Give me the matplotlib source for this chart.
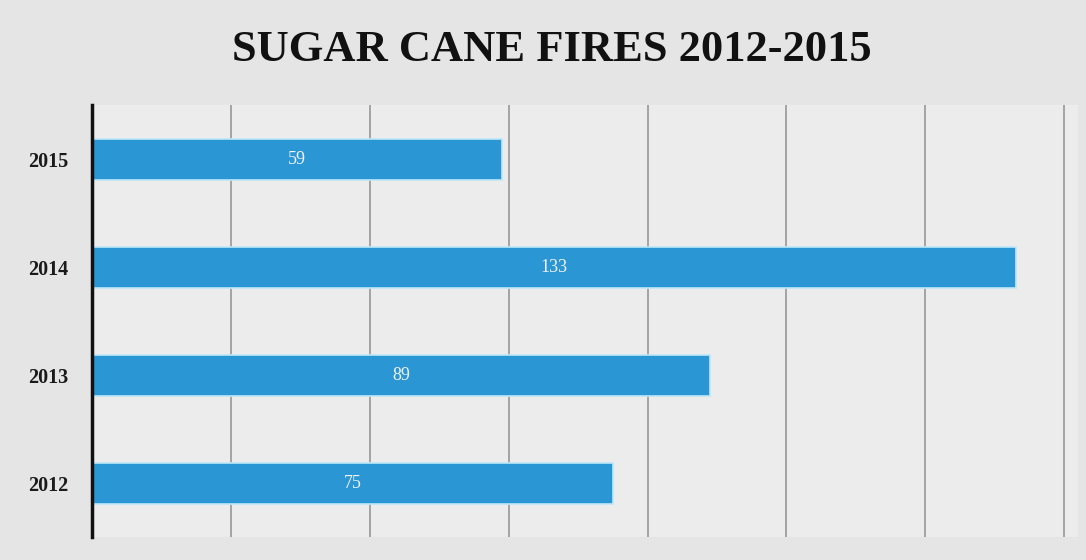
import matplotlib.pyplot as plt

# data
years = ['2012', '2013', '2014', '2015']
fires = [75, 89, 133, 59]
grid_ticks = [20, 40, 60, 80, 100, 120, 140]

title = 'SUGAR CANE FIRES 2012-2015'
bar_color = '#2a97d4'

plt.rcParams['font.family'] = ['Liberation Serif', 'DejaVu Serif']

fig = plt.figure(figsize=(10.86, 5.6), dpi=100)
fig.patch.set_facecolor('#e5e5e5')
ax = fig.add_axes([0.0847, 0.041, 0.908, 0.7714])
ax.set_facecolor('#ececec')

pos = range(len(years))
bars = ax.barh(pos, fires, height=0.38, color=bar_color,
               edgecolor='#bfe6f7', linewidth=1.2, zorder=3)

# value labels in the middle of each bar
for rect, v in zip(bars, fires):
    ax.text(rect.get_x() + rect.get_width() / 2,
            rect.get_y() + rect.get_height() / 2, str(v),
            ha='center', va='center', color='#f2f2f2', fontsize=13, zorder=4)

ax.set_xlim(0, 142)
ax.set_ylim(-0.5, 3.5)
ax.set_yticks(list(pos))
ax.set_yticklabels(years, fontsize=14.5, fontweight='bold', color='#1a1a1a')
ax.set_xticks(grid_ticks)
ax.set_xticklabels([])
ax.tick_params(axis='both', length=0)
ax.tick_params(axis='y', pad=17)
ax.grid(axis='x', color='#9e9e9e', linewidth=1.3, zorder=1)

for side in ['top', 'right', 'bottom']:
    ax.spines[side].set_visible(False)
ax.spines['left'].set_linewidth(2.5)
ax.spines['left'].set_color('#111111')
ax.spines['left'].set_zorder(5)

fig.text(0.508, 0.911, title, ha='center', va='center',
         fontsize=32, fontweight='bold', color='#111111')

fig.savefig('out.png', dpi=100, facecolor=fig.get_facecolor())
